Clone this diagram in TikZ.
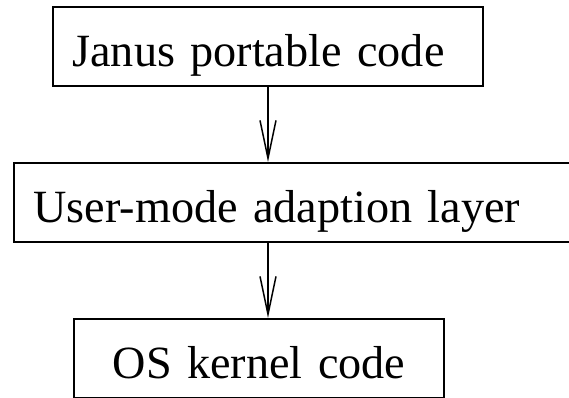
\documentclass[tikz,border=0pt]{standalone}
\usepackage{fontspec}
\setmainfont{Liberation Serif}
\usetikzlibrary{arrows.meta}
\tikzset{
  layer/.style={draw, line width=2pt, anchor=north west, inner ysep=0pt,
    text height=59pt, text depth=20pt, font=\fontsize{46.2}{50}\selectfont},
  flow/.style={line width=1.5pt, -{Straight Barb[length=38pt, width=16pt]}}
}
\begin{document}
\begin{tikzpicture}[x=1pt, y=1pt]
  \useasboundingbox (0, 0) rectangle (569, -397);
  \node [layer, inner xsep=19.5pt, text width=391pt, align=left] (portable) at (52, -6) {Janus portable code};
  \node [layer, inner xsep=19.5pt, text width=522pt, align=left] (adapt) at (13, -162) {User-mode adaption layer};
  \node [layer, inner xsep=0pt, text width=370pt, align=center] (kernel) at (73, -318) {OS kernel code};
  \draw [flow] (portable.south) -- (portable.south |- adapt.north);
  \draw [flow] (portable.south |- adapt.south) -- (portable.south |- kernel.north);
\end{tikzpicture}
\end{document}
